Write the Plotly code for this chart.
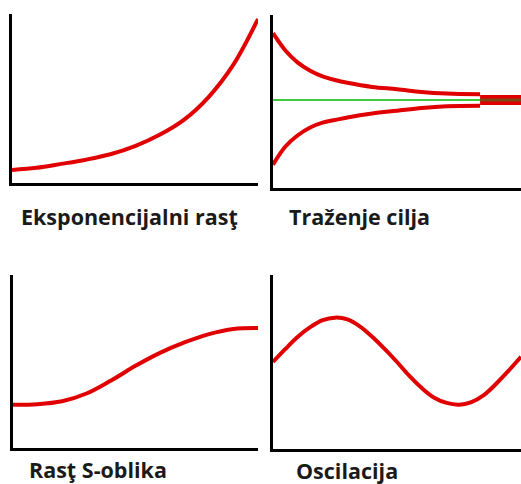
import plotly.graph_objects as go

W, H = 521, 484

# --- data (x = time 0..10, y = level 0..100) ---
exp_x = [0, 1, 2, 3, 4, 5, 6, 7, 8, 9, 10]
exp_y = [7.7, 9.0, 11.3, 13.8, 17.0, 21.8, 28.5, 37.5, 51.0, 70.0, 97.0]

goal_x = [0, 0.5, 1, 1.5, 2, 2.5, 3, 4, 5, 6, 7, 8.35]
goal_upper = [89.5, 79.5, 72.5, 67.8, 64.5, 62.4, 60.8, 58.4, 57.1, 55.5, 54.6, 54.2]
goal_lower = [13.5, 24.0, 30.5, 35.0, 37.8, 39.3, 40.8, 43.1, 44.7, 46.3, 47.3, 47.6]
goal_level = 50.9
goal_line_x = [0, 8.35]
goal_band_x = [8.35, 10]

s_x = [0, 1, 2, 3, 4, 5, 6, 7, 8, 9, 10]
s_y = [25.0, 25.3, 27.0, 31.5, 39.0, 47.5, 55.0, 61.0, 65.8, 68.8, 69.4]

osc_x = [0, 0.5, 1, 1.5, 2, 2.5, 3, 3.5, 4, 4.5, 5, 5.5, 6, 6.5, 7, 7.5, 8, 8.5, 9, 9.5, 10]
osc_y = [50, 57.5, 64.5, 70, 74, 75.5, 74.5, 70.5, 64.5, 57.5, 50, 42, 35, 29.5, 26.5, 25.5, 27, 31, 37.5, 45, 53]

labels = ["Eksponencijalni rasţ", "Traženje cilja", "Rasţ S-oblika", "Oscilacija"]

RED = "#e10000"
GREEN = "#3ccc3c"

fig = go.Figure()

def px_x(p):
    return p / W

def px_y(p):
    return 1 - p / H

# panel domains in pixels: (left, right, top, bottom)
panels = [
    (12, 258, 14, 183),
    (273, 521, 15, 188),
    (13, 258, 275, 448),
    (273, 521, 275, 449),
]

layout_axes = {}
for i, (l, r, t, b) in enumerate(panels, start=1):
    xn = "xaxis" if i == 1 else f"xaxis{i}"
    yn = "yaxis" if i == 1 else f"yaxis{i}"
    common = dict(showline=True, linecolor="black", linewidth=3, showgrid=False,
                  zeroline=False, showticklabels=False, ticks="", fixedrange=True)
    layout_axes[xn] = dict(domain=[px_x(l), min(px_x(r), 1)], range=[0, 10],
                           anchor="y" if i == 1 else f"y{i}", **common)
    layout_axes[yn] = dict(domain=[px_y(b), px_y(t)], range=[0, 100],
                           anchor="x" if i == 1 else f"x{i}", **common)

line = dict(color=RED, width=4, shape="spline", smoothing=1.0)

fig.add_trace(go.Scatter(x=exp_x, y=exp_y, mode="lines", line=line, xaxis="x", yaxis="y"))

fig.add_trace(go.Scatter(x=goal_line_x, y=[goal_level] * len(goal_line_x), mode="lines",
                         line=dict(color=GREEN, width=2), xaxis="x2", yaxis="y2"))
fig.add_trace(go.Scatter(x=goal_x, y=goal_upper, mode="lines", line=line, xaxis="x2", yaxis="y2"))
fig.add_trace(go.Scatter(x=goal_x, y=goal_lower, mode="lines", line=line, xaxis="x2", yaxis="y2"))
fig.add_trace(go.Scatter(x=goal_band_x, y=[goal_level] * len(goal_band_x), mode="lines",
                         line=dict(color=RED, width=10), xaxis="x2", yaxis="y2"))
fig.add_trace(go.Scatter(x=goal_band_x, y=[goal_level] * len(goal_band_x), mode="lines",
                         line=dict(color="#7a4a14", width=3), xaxis="x2", yaxis="y2"))

fig.add_trace(go.Scatter(x=s_x, y=s_y, mode="lines", line=line, xaxis="x3", yaxis="y3"))
fig.add_trace(go.Scatter(x=osc_x, y=osc_y, mode="lines", line=line, xaxis="x4", yaxis="y4"))

label_pos = [(19, 216), (287, 216), (27, 469), (294, 470)]
annotations = []
for txt, (lx, ly) in zip(labels, label_pos):
    annotations.append(dict(text=txt, x=px_x(lx), y=px_y(ly), xref="paper", yref="paper",
                            xanchor="left", yanchor="middle", showarrow=False,
                            font=dict(family="Open Sans", size=21.5, color="#1a1a1a", weight="bold")))

fig.update_layout(width=W, height=H, margin=dict(l=0, r=0, t=0, b=0),
                  paper_bgcolor="white", plot_bgcolor="white", showlegend=False,
                  annotations=annotations, **layout_axes)

fig.write_html("out.html", config={"displayModeBar": False},
               post_script="document.body.style.margin='0';document.body.style.overflow='hidden';")
